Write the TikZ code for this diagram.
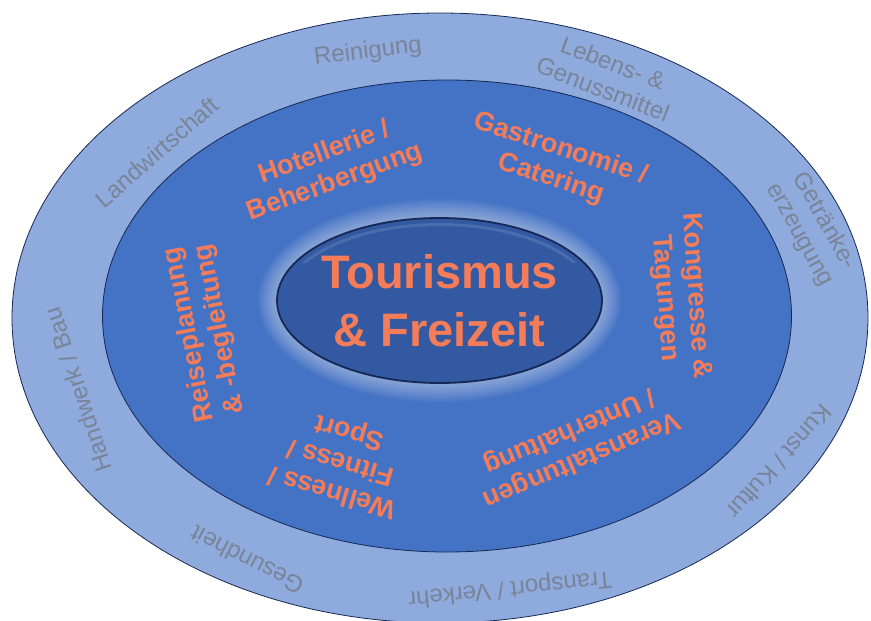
\documentclass[tikz,border=0pt]{standalone}
\usepackage{fontspec}
\setmainfont{Liberation Sans}
\usetikzlibrary{shapes.geometric}
\definecolor{ringout}{RGB}{143,170,220}
\definecolor{ringin}{RGB}{68,114,196}
\definecolor{core}{RGB}{50,89,162}
\definecolor{rim}{RGB}{22,40,85}
\definecolor{coral}{RGB}{244,124,88}
\definecolor{greytext}{RGB}{122,132,152}
\begin{document}
\begin{tikzpicture}[x=1pt,y=-1pt,
  ring/.style={ellipse, draw=rim, line width=0.8pt, inner sep=0pt},
  outerlabel/.style={text=greytext, font=\fontsize{24}{28}\selectfont, align=center, inner sep=0pt},
  innerlabel/.style={text=coral, font=\bfseries\fontsize{27}{31}\selectfont, align=center, inner sep=0pt},
  titletext/.style={font=\bfseries\fontsize{47}{58}\selectfont, align=center, inner sep=0pt}]
\useasboundingbox (0,0) rectangle (871,621);

% rings
\node[ring, fill=ringout, minimum width=856pt, minimum height=610pt] (outer) at (440,318) {};
\node[ring, fill=ringin, minimum width=689pt, minimum height=472pt] (inner) at (447,316) {};

% soft halo round the core
\foreach \g in {1,...,12}
  \fill[white, opacity=0.04] (439.5,300.5) ellipse [x radius={162.5pt+\g*1.6pt}, y radius={82.5pt+\g*1.6pt}];

% core with a faint bevel along its upper rim
\node[ellipse, draw=rim, line width=1.8pt, fill=core, inner sep=0pt,
      minimum width=325pt, minimum height=165pt] (core) at (439.5,300.5) {};
\begin{scope}
  \clip (277,218) rectangle (602,262);
  \draw[white, opacity=0.12, line width=3pt] (439.5,302.5) ellipse [x radius=157pt, y radius=78pt];
\end{scope}
\node[titletext, text=coral] (title) at (439.5,300.5) {Tourismus\\\& Freizeit};

% inner ring topics
\node[innerlabel, rotate=20] (hotel) at (330,168) {Hotellerie /\\Beherbergung};
\node[innerlabel, rotate=-18] (gastro) at (556,164) {Gastronomie /\\Catering};
\node[innerlabel, rotate=-86] (kongress) at (680,297) {Kongresse \&\\Tagungen};
\node[innerlabel, rotate=203] (veranst) at (575,445) {Veranstaltungen\\/ Unterhaltung};
\node[innerlabel, rotate=164] (wellness) at (341,461) {Wellness /\\Fitness /\\Sport};
\node[innerlabel, rotate=101] (reise) at (205,332) {Reiseplanung\\\& -begleitung};

% outer ring sectors
\node[outerlabel, rotate=7] (reinigung) at (368,52) {Reinigung};
\node[outerlabel, rotate=-21] (lebens) at (608,76) {Lebens- \&\\Genussmittel};
\node[outerlabel, rotate=-61] (getraenke) at (812,228) {Getränke-\\erzeugung};
\node[outerlabel, rotate=-132] (kunst) at (780,462) {Kunst / Kultur};
\node[outerlabel, rotate=186] (transport) at (510,588) {Transport / Verkehr};
\node[outerlabel, rotate=153] (gesund) at (247,560) {Gesundheit};
\node[outerlabel, rotate=108] (handwerk) at (78,390) {Handwerk / Bau};
\node[outerlabel, rotate=41] (landwirt) at (157,152) {Landwirtschaft};
\end{tikzpicture}
\end{document}
